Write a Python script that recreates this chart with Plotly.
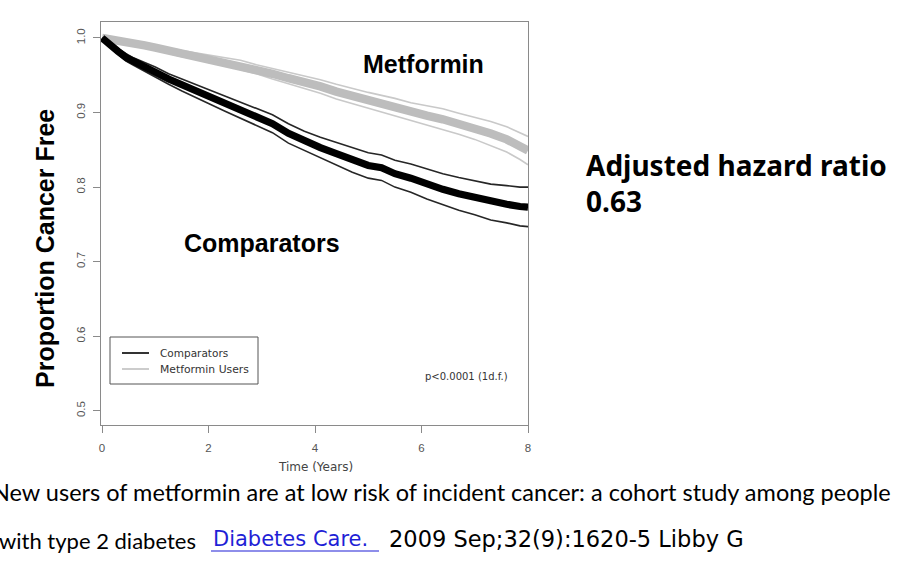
import plotly.graph_objects as go

# ---- data ----
years = [0, 0.1, 0.2, 0.3, 0.45, 0.6, 0.8, 1.0, 1.25, 1.5, 1.75, 2.0, 2.3, 2.6, 2.9, 3.2,
         3.5, 3.8, 4.1, 4.4, 4.7, 5.0, 5.25, 5.5, 5.8, 6.1, 6.4, 6.7, 7.0, 7.3, 7.6, 7.85, 8.0]

comparators = [1.000, 0.993, 0.987, 0.982, 0.974, 0.968, 0.961, 0.954, 0.945, 0.937, 0.929,
               0.921, 0.912, 0.903, 0.894, 0.885, 0.872, 0.862, 0.853, 0.845, 0.836, 0.829,
               0.826, 0.818, 0.812, 0.804, 0.797, 0.791, 0.786, 0.780, 0.777, 0.774, 0.773]
comparators_upper = [1.000, 0.995, 0.990, 0.986, 0.979, 0.973, 0.967, 0.961, 0.952, 0.945, 0.938,
                     0.930, 0.922, 0.914, 0.905, 0.897, 0.885, 0.875, 0.867, 0.860, 0.852, 0.846,
                     0.843, 0.836, 0.831, 0.824, 0.818, 0.813, 0.809, 0.804, 0.802, 0.800, 0.800]
comparators_lower = [1.000, 0.991, 0.984, 0.978, 0.969, 0.963, 0.955, 0.947, 0.938, 0.929, 0.920,
                     0.912, 0.902, 0.892, 0.883, 0.873, 0.859, 0.849, 0.839, 0.830, 0.820, 0.812,
                     0.809, 0.800, 0.793, 0.784, 0.776, 0.769, 0.763, 0.756, 0.752, 0.748, 0.747]

metformin = [1.000, 0.999, 0.998, 0.997, 0.995, 0.993, 0.990, 0.987, 0.983, 0.979, 0.976,
             0.972, 0.968, 0.964, 0.958, 0.952, 0.946, 0.941, 0.935, 0.928, 0.922, 0.916,
             0.912, 0.907, 0.901, 0.896, 0.891, 0.885, 0.879, 0.872, 0.864, 0.855, 0.849]
metformin_upper = [1.000, 1.000, 0.999, 0.998, 0.997, 0.995, 0.993, 0.990, 0.987, 0.983, 0.980,
                   0.977, 0.973, 0.970, 0.964, 0.959, 0.953, 0.949, 0.944, 0.938, 0.932, 0.927,
                   0.923, 0.919, 0.913, 0.909, 0.905, 0.899, 0.894, 0.888, 0.881, 0.873, 0.868]
metformin_lower = [1.000, 0.998, 0.997, 0.996, 0.993, 0.991, 0.987, 0.984, 0.979, 0.975, 0.972,
                   0.967, 0.963, 0.958, 0.952, 0.945, 0.939, 0.933, 0.926, 0.918, 0.912, 0.905,
                   0.901, 0.895, 0.889, 0.883, 0.877, 0.871, 0.864, 0.856, 0.847, 0.837, 0.830]

x_ticks = [0, 2, 4, 6, 8]
y_ticks = [0.5, 0.6, 0.7, 0.8, 0.9, 1.0]
y_tick_labels = ["0.5", "0.6", "0.7", "0.8", "0.9", "1.0"]

# ---- layout geometry (pixels in 900x565 page) ----
W, H = 900, 565
L, R, T, B = 101, 528, 22, 425


def px(x):
    return (x - L) / (R - L)


def py(y):
    return (B - y) / (B - T)


fig = go.Figure()

GRAY_MAIN = "#bdbdbd"
GRAY_CI = "#c9c9c9"

for ys in (metformin_upper, metformin_lower):
    fig.add_trace(go.Scatter(x=years, y=ys, mode="lines", line=dict(color=GRAY_CI, width=1.6),
                             showlegend=False, hoverinfo="skip"))
fig.add_trace(go.Scatter(x=years, y=metformin, mode="lines", name="Metformin Users",
                         line=dict(color=GRAY_MAIN, width=8.5), showlegend=False))
for ys in (comparators_upper, comparators_lower):
    fig.add_trace(go.Scatter(x=years, y=ys, mode="lines", line=dict(color="#262626", width=1.6),
                             showlegend=False, hoverinfo="skip"))
fig.add_trace(go.Scatter(x=years, y=comparators, mode="lines", name="Comparators",
                         line=dict(color="#000000", width=7.2), showlegend=False))

axis_common = dict(showgrid=False, zeroline=False, showline=True, mirror=True, linecolor="#8a8a8a",
                   linewidth=1, ticks="outside", ticklen=7, tickcolor="#8a8a8a",
                   tickfont=dict(family="Liberation Sans", size=11.5, color="#555555"))

fig.update_xaxes(range=[-0.02, 8.0], tickvals=x_ticks, ticktext=[str(v) for v in x_ticks],
                 ticklabelstandoff=5, **axis_common)
fig.update_yaxes(range=[0.481, 1.0214], tickvals=y_ticks, ticktext=y_tick_labels, tickangle=-90,
                 ticklabelstandoff=3, **axis_common)

shapes = []
# legend box
shapes.append(dict(type="rect", xref="paper", yref="paper", x0=px(110), x1=px(258), y0=py(384), y1=py(337),
                   line=dict(color="#555555", width=1), fillcolor="rgba(0,0,0,0)"))
shapes.append(dict(type="line", xref="paper", yref="paper", x0=px(122), x1=px(149), y0=py(353), y1=py(353),
                   line=dict(color="#333333", width=2)))
shapes.append(dict(type="line", xref="paper", yref="paper", x0=px(122), x1=px(149), y0=py(369), y1=py(369),
                   line=dict(color="#cccccc", width=2)))
# underline of the link
shapes.append(dict(type="line", xref="paper", yref="paper", x0=px(211), x1=px(379), y0=py(551), y1=py(551),
                   line=dict(color="#1f1fd6", width=1.2)))

annotations = []


def ann(text, x, y, size, family="Liberation Sans", color="#000000", xanchor="left", yanchor="middle",
        textangle=0):
    annotations.append(dict(text=text, x=px(x), y=py(y), xref="paper", yref="paper", showarrow=False,
                            xanchor=xanchor, yanchor=yanchor, textangle=textangle, align="left",
                            font=dict(family=family, size=size, color=color)))


ann("Comparators", 158, 353, 10.5, family="DejaVu Sans", color="#333333")
ann("Metformin Users", 158, 369, 10.8, family="DejaVu Sans", color="#333333")
ann("p<0.0001 (1d.f.)", 423, 376, 10, family="DejaVu Sans", color="#333333")
ann("Time (Years)", 315, 467, 12, family="DejaVu Sans", color="#444444", xanchor="center")

ann("<b>Metformin</b>", 423, 64, 25, xanchor="center")
ann("<b>Comparators</b>", 262, 243, 25, xanchor="center")
ann("<b>Proportion Cancer Free</b>", 45, 249, 25, xanchor="center", textangle=-90)

ann("<b>Adjusted hazard ratio</b><br><b>0.63</b>", 584, 183, 28, family="Noto Sans")

ann("New users of metformin are at low risk of incident cancer: a cohort study among people",
    -10, 492, 23.5, family="Lato")
ann("with type 2 diabetes", -3, 540, 22, family="Lato")
ann("Diabetes Care.", 211, 539, 21, family="DejaVu Sans", color="#1f1fd6")
ann("2009 Sep;32(9):1620-5 Libby G", 387, 539, 22.5, family="DejaVu Sans")

fig.update_layout(width=W, height=H, margin=dict(l=L, r=W - R, t=T, b=H - B),
                  paper_bgcolor="white", plot_bgcolor="white", showlegend=False,
                  shapes=shapes, annotations=annotations)

fig.write_html("out.html", config={"displayModeBar": False, "staticPlot": True},
               post_script="document.body.style.margin='0';document.body.style.overflow='hidden';")
